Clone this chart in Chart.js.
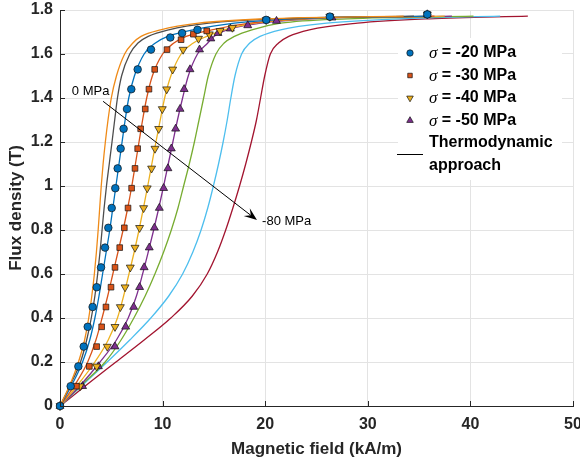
<!DOCTYPE html>
<html>
<head>
<meta charset="utf-8">
<script src="https://cdn.jsdelivr.net/npm/chart.js@4.4.1/dist/chart.umd.min.js"></script>
<style>
  html, body { margin: 0; padding: 0; background: #fff; }
  #myChart { display: block; }
</style>
</head>
<body>
<canvas id="myChart" width="580" height="466"></canvas>
<script>
// measured points, B in T vs H in kA/m
const circB = [0, 0.09, 0.18, 0.27, 0.36, 0.45, 0.54, 0.63, 0.72, 0.81, 0.90, 0.99, 1.08, 1.17, 1.26, 1.35, 1.44, 1.53, 1.62, 1.675, 1.695, 1.71, 1.755, 1.77, 1.78];
const circH = [0, 1.04, 1.79, 2.31, 2.7, 3.18, 3.58, 4.0, 4.39, 4.71, 5.04, 5.39, 5.62, 5.91, 6.2, 6.53, 6.95, 7.57, 8.87, 10.75, 11.9, 13.4, 20.1, 26.3, 35.8];

const sqB = [0, 0.09, 0.18, 0.27, 0.36, 0.45, 0.54, 0.63, 0.72, 0.81, 0.90, 0.99, 1.08, 1.17, 1.26, 1.35, 1.44, 1.53, 1.62, 1.665, 1.69, 1.705, 1.755, 1.77, 1.78];
const sqH = [0, 1.6, 2.86, 3.57, 4.06, 4.48, 4.97, 5.36, 5.82, 6.27, 6.63, 6.98, 7.31, 7.57, 7.86, 8.31, 8.67, 9.23, 10.43, 11.8, 13.0, 14.3, 20.1, 26.3, 35.8];

const triDnB = [0, 0.09, 0.18, 0.27, 0.36, 0.45, 0.54, 0.63, 0.72, 0.81, 0.90, 0.99, 1.08, 1.17, 1.26, 1.35, 1.44, 1.53, 1.62, 1.67, 1.69, 1.705, 1.72, 1.755, 1.77, 1.78];
const triDnH = [0, 1.95, 3.57, 4.61, 5.36, 5.88, 6.34, 6.85, 7.31, 7.76, 8.15, 8.5, 8.93, 9.26, 9.62, 9.97, 10.4, 10.98, 12.0, 13.5, 14.55, 15.6, 16.8, 20.1, 26.3, 35.8];

const triUpB = [0, 0.09, 0.18, 0.27, 0.36, 0.45, 0.54, 0.63, 0.72, 0.81, 0.90, 0.99, 1.08, 1.17, 1.26, 1.35, 1.44, 1.53, 1.62, 1.67, 1.695, 1.715, 1.73, 1.75, 1.765, 1.78];
const triUpH = [0, 2.2, 3.74, 5.36, 6.4, 7.18, 7.76, 8.2, 8.7, 9.2, 9.68, 10.1, 10.52, 10.85, 11.27, 11.7, 12.1, 12.67, 13.6, 14.7, 15.4, 16.6, 18.3, 21.1, 26.5, 35.8];

// thermodynamic model curves, H at each B level
const curveB = [0, 0.1, 0.2, 0.3, 0.4, 0.5, 0.6, 0.7, 0.8, 0.9, 1.0, 1.1, 1.2, 1.3, 1.4, 1.5, 1.6, 1.65, 1.68, 1.71, 1.74, 1.76, 1.772];
const h0  = [0, 1.0, 1.8, 2.4, 2.8, 3.1, 3.35, 3.55, 3.72, 3.87, 4.02, 4.2, 4.42, 4.68, 5.0, 5.5, 6.3, 7.1, 7.9, 9.8, 13.5, 20, 33.5];
const h10 = [0, 1.05, 2.0, 2.6, 3.05, 3.4, 3.67, 3.9, 4.1, 4.3, 4.53, 4.8, 5.07, 5.33, 5.6, 6.0, 6.8, 7.6, 8.6, 10.6, 14.5, 21, 34.5];
const h20 = [0, 1.2, 2.2, 2.9, 3.4, 3.8, 4.15, 4.5, 4.85, 5.15, 5.45, 5.75, 6.05, 6.35, 6.7, 7.25, 8.2, 9.3, 10.5, 13.0, 17, 22.5, 35.5];
const h30 = [0, 1.5, 2.7, 3.5, 4.1, 4.65, 5.15, 5.65, 6.15, 6.6, 7.0, 7.35, 7.7, 8.05, 8.45, 9.0, 10.0, 11.1, 12.3, 14.8, 18.5, 23.5, 36.5];
const h40 = [0, 1.8, 3.4, 4.7, 5.6, 6.2, 6.72, 7.23, 7.7, 8.13, 8.55, 8.95, 9.35, 9.77, 10.2, 10.8, 11.8, 13.0, 14.3, 16.0, 19.0, 24, 37.5];
const h50 = [0, 2.1, 3.9, 5.5, 6.65, 7.45, 8.05, 8.6, 9.13, 9.63, 10.1, 10.55, 11.0, 11.45, 11.95, 12.5, 13.4, 14.4, 15.0, 16.3, 19.6, 24.5, 38.2];
const h60 = [0, 2.2, 4.4, 5.95, 7.2, 8.3, 9.25, 10.1, 10.85, 11.5, 12.05, 12.6, 13.1, 13.55, 14.0, 14.45, 15.2, 16.0, 17.0, 18.7, 21.5, 28, 40.3];
const h70 = [0, 2.3, 4.6, 6.8, 8.85, 10.6, 11.95, 12.95, 13.75, 14.4, 14.95, 15.45, 15.9, 16.3, 16.65, 17.05, 17.7, 18.5, 19.5, 21.5, 26, 33, 42.9];
const h80 = [0, 2.7, 5.45, 8.2, 10.8, 12.9, 14.35, 15.35, 16.15, 16.85, 17.5, 18.1, 18.65, 19.15, 19.55, 19.95, 20.5, 21.3, 22.3, 24.3, 29, 36, 45.6];

const curveNames = ['0 MPa', '-10 MPa', '-20 MPa', '-30 MPa', '-40 MPa', '-50 MPa', '-60 MPa', '-70 MPa', '-80 MPa'];
const curveH = [h0, h10, h20, h30, h40, h50, h60, h70, h80];
const curveColors = ['#EF8A17', '#4D4D4D', '#0072BD', '#D95319', '#EDB120', '#7E2F8E', '#77AC30', '#4DBEEE', '#A2142F'];

const legendLabels = ['= -20 MPa', '= -30 MPa', '= -40 MPa', '= -50 MPa'];
const yTicks = [0, 0.2, 0.4, 0.6, 0.8, 1, 1.2, 1.4, 1.6, 1.8];

// arrow annotation (data units)
const arrowFrom = { x: 4.2, y: 1.385 };
const arrowTo = { x: 19.2, y: 0.845 };
const labelTop = { x: 1.15, y: 1.43, text: '0 MPa' };
const labelBottom = { x: 19.7, y: 0.84, text: '-80 MPa' };

const FONT = '"Liberation Sans", Arial, Helvetica, sans-serif';
const TXT = '#262626';

function pts(hs, bs) {
  return hs.map((h, i) => ({ x: h, y: bs[i] }));
}

const markerSets = [
  { label: 'σ = -20 MPa', data: pts(circH, circB), pointStyle: 'circle', pointRadius: 3.8, pointRotation: 0, backgroundColor: '#0072BD' },
  { label: 'σ = -30 MPa', data: pts(sqH, sqB), pointStyle: 'rect', pointRadius: 4.0, pointRotation: 0, backgroundColor: '#D95319' },
  { label: 'σ = -40 MPa', data: pts(triDnH, triDnB), pointStyle: 'triangle', pointRadius: 4.6, pointRotation: 180, backgroundColor: '#EDB120' },
  { label: 'σ = -50 MPa', data: pts(triUpH, triUpB), pointStyle: 'triangle', pointRadius: 4.6, pointRotation: 0, backgroundColor: '#7E2F8E' }
].map(d => Object.assign(d, {
  showLine: false,
  borderColor: '#000',
  pointBorderColor: '#111',
  pointBorderWidth: 0.7,
  pointBackgroundColor: d.backgroundColor,
  clip: false
}));

const lineSets = curveH.map((hs, i) => ({
  label: curveNames[i],
  data: pts(hs, curveB),
  showLine: true,
  borderColor: curveColors[i],
  borderWidth: 1.3,
  pointRadius: 0,
  cubicInterpolationMode: 'monotone',
  fill: false
}));

const overlay = {
  id: 'overlay',
  afterDatasetsDraw(chart) {
    const c = chart.ctx;
    const xs = chart.scales.x, ys = chart.scales.y;
    const area = chart.chartArea;
    c.save();
    // inward tick marks
    c.strokeStyle = TXT;
    c.lineWidth = 1;
    c.beginPath();
    for (let v = 0; v <= 50; v += 10) {
      const px = Math.round(xs.getPixelForValue(v)) + 0.5;
      c.moveTo(px, area.bottom);
      c.lineTo(px, area.bottom - 5);
    }
    yTicks.forEach(v => {
      const py = Math.round(ys.getPixelForValue(v)) + 0.5;
      c.moveTo(area.left, py);
      c.lineTo(area.left + 5, py);
    });
    c.stroke();

    // arrow
    const x1 = xs.getPixelForValue(arrowFrom.x), y1 = ys.getPixelForValue(arrowFrom.y);
    const x2 = xs.getPixelForValue(arrowTo.x), y2 = ys.getPixelForValue(arrowTo.y);
    const a = Math.atan2(y2 - y1, x2 - x1);
    const L = 13, W = 5;
    const dx = Math.cos(a), dy = Math.sin(a);
    c.strokeStyle = '#000';
    c.lineWidth = 1;
    c.beginPath();
    c.moveTo(x1, y1);
    c.lineTo(x2 - dx * L * 0.6, y2 - dy * L * 0.6);
    c.stroke();
    c.fillStyle = '#000';
    c.beginPath();
    c.moveTo(x2, y2);
    c.lineTo(x2 - dx * L - dy * W, y2 - dy * L + dx * W);
    c.lineTo(x2 - dx * L * 0.6, y2 - dy * L * 0.6);
    c.lineTo(x2 - dx * L + dy * W, y2 - dy * L - dx * W);
    c.closePath();
    c.fill();

    c.font = '13px ' + FONT;
    c.fillStyle = '#000';
    c.textBaseline = 'middle';
    c.textAlign = 'left';
    c.fillText(labelTop.text, xs.getPixelForValue(labelTop.x), ys.getPixelForValue(labelTop.y));
    c.fillText(labelBottom.text, xs.getPixelForValue(labelBottom.x), ys.getPixelForValue(labelBottom.y));

    // legend box
    const lx = 398, ly = 38;
    c.fillStyle = '#fff';
    c.fillRect(lx, ly, 164, 142);
    const rowY = [53, 75.5, 98, 120.5];
    markerSets.forEach((d, i) => {
      c.fillStyle = d.backgroundColor;
      c.strokeStyle = '#111';
      c.lineWidth = 0.7;
      Chart.helpers.drawPoint(c, {
        pointStyle: d.pointStyle,
        radius: d.pointStyle === 'triangle' ? 3.8 : 3.2,
        rotation: d.pointRotation,
        borderWidth: 0.7
      }, 410, rowY[i]);
      c.fillStyle = '#000';
      c.font = 'italic 17px "Liberation Serif", "Times New Roman", serif';
      c.fillText('σ', 429, rowY[i] + 1);
      const w = c.measureText('σ').width;
      c.font = 'bold 16px ' + FONT;
      c.fillText(' ' + legendLabels[i], 429 + w, rowY[i]);
    });
    c.strokeStyle = '#000';
    c.lineWidth = 1;
    c.beginPath();
    c.moveTo(397, 154.5);
    c.lineTo(423, 154.5);
    c.stroke();
    c.font = 'bold 16px ' + FONT;
    c.fillStyle = '#000';
    c.fillText('Thermodynamic', 429, 143);
    c.fillText('approach', 429, 166);
    c.restore();
  }
};

const ctx = document.getElementById('myChart');
new Chart(ctx, {
  type: 'scatter',
  data: { datasets: markerSets.concat(lineSets) },
  options: {
    responsive: false,
    animation: false,
    events: [],
    layout: { padding: { top: 10, right: 7, left: 0, bottom: 0 } },
    plugins: {
      legend: { display: false },
      tooltip: { enabled: false }
    },
    scales: {
      x: {
        type: 'linear',
        min: 0,
        max: 50,
        ticks: { stepSize: 10, color: TXT, padding: 9, font: { family: FONT, size: 16, weight: 'bold' } },
        grid: { color: '#e3e3e3', drawTicks: false, lineWidth: 1 },
        border: { color: TXT, width: 1 },
        title: {
          display: true,
          text: 'Magnetic field (kA/m)',
          color: TXT,
          font: { family: FONT, size: 17, weight: 'bold' },
          padding: { top: 0, bottom: 6 }
        },
        afterFit(s) { s.height = 60; s.paddingLeft = 0; s.paddingRight = 0; }
      },
      y: {
        type: 'linear',
        min: 0,
        max: 1.8,
        afterBuildTicks(s) { s.ticks = yTicks.map(v => ({ value: v })); },
        ticks: {
          color: TXT,
          padding: 7,
          font: { family: FONT, size: 16, weight: 'bold' },
          callback: v => String(Math.round(v * 10) / 10)
        },
        grid: { color: '#e3e3e3', drawTicks: false, lineWidth: 1 },
        border: { color: TXT, width: 1 },
        title: {
          display: true,
          text: 'Flux density (T)',
          color: TXT,
          font: { family: FONT, size: 17, weight: 'bold' },
          padding: { top: 6, bottom: 0 }
        },
        afterFit(s) { s.width = 60; s.paddingTop = 0; s.paddingBottom = 0; }
      }
    }
  },
  plugins: [overlay]
});
</script>
</body>
</html>
